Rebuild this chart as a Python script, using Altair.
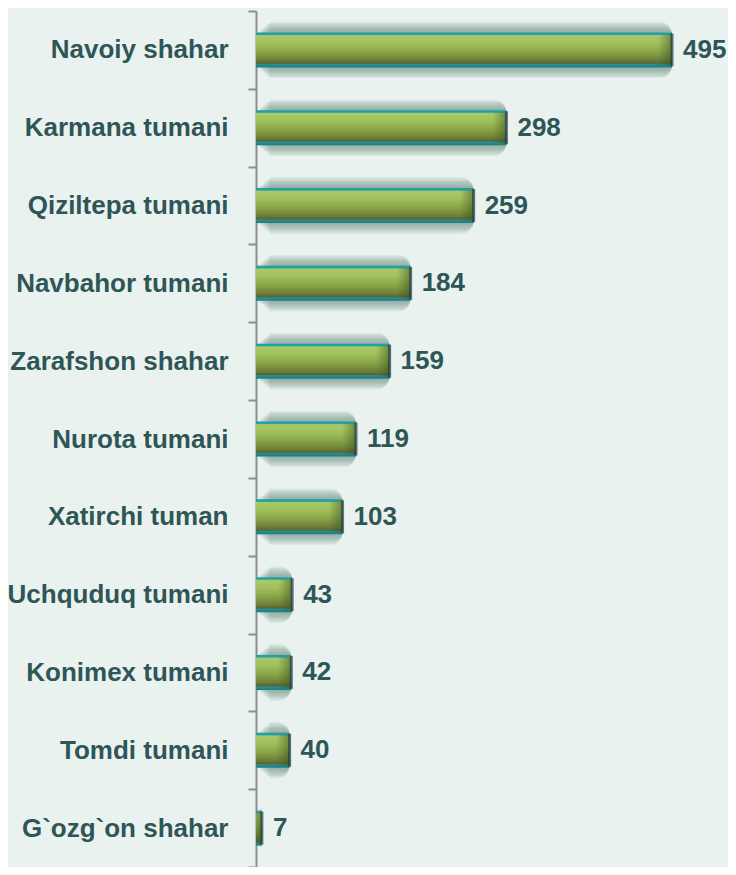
import altair as alt
import pandas as pd

categories = ["Navoiy shahar", "Karmana tumani", "Qiziltepa tumani", "Navbahor tumani",
              "Zarafshon shahar", "Nurota tumani", "Xatirchi tuman", "Uchquduq tumani",
              "Konimex tumani", "Tomdi tumani", "G`ozg`on shahar"]
values = [495, 298, 259, 184, 159, 119, 103, 43, 42, 40, 7]

df = pd.DataFrame({"cat": categories, "val": values})

FONT = "Liberation Sans, Arial, sans-serif"
TXT = "#2F5656"
BG = "#EAF2F0"

x = alt.X("val:Q", scale=alt.Scale(domain=[0, 495], nice=False, zero=True), axis=None)
y = alt.Y("cat:N", sort=categories, scale=alt.Scale(paddingInner=0, paddingOuter=0),
          axis=alt.Axis(title=None, domainColor="#8E8E8E", domainWidth=2,
                        tickColor="#8E8E8E", tickWidth=2, tickSize=8, tickBand="extent",
                        labelFont=FONT, labelFontSize=26, labelFontWeight="bold",
                        labelColor=TXT, labelPadding=20, grid=False, labelLimit=400))

base = alt.Chart(df).encode(y=y)

glows = []
for i in range(9):
    s = 37 + 2.5 * i
    off = 2 + 1.5 * i
    r = 3 + 1.2 * i
    glows.append(base.mark_bar(size=s, x2Offset=off, cornerRadius=r, color="#6F9282",
                               opacity=0.11).encode(x=x, x2=alt.value(0)))

bar_grad = alt.LinearGradient(
    gradient="linear", x1=0, y1=0, x2=0, y2=1,
    stops=[alt.GradientStop(offset=0.0, color="#1E9CA3"),
           alt.GradientStop(offset=0.06, color="#27A3A6"),
           alt.GradientStop(offset=0.09, color="#A9CA68"),
           alt.GradientStop(offset=0.30, color="#A1C05E"),
           alt.GradientStop(offset=0.55, color="#8AA546"),
           alt.GradientStop(offset=0.80, color="#6C7C38"),
           alt.GradientStop(offset=0.88, color="#58642E"),
           alt.GradientStop(offset=0.91, color="#2A8E93"),
           alt.GradientStop(offset=1.0, color="#1B7C84")])

bars = base.mark_bar(size=35, color=bar_grad).encode(x=x, x2=alt.value(0))

cap_grad = alt.LinearGradient(
    gradient="linear", x1=0, y1=0, x2=1, y2=0,
    stops=[alt.GradientStop(offset=0.0, color="rgba(70,90,35,0)"),
           alt.GradientStop(offset=1.0, color="rgba(60,80,30,0.55)")])
caps = base.mark_bar(size=31, color=cap_grad, xOffset=-14, clip=True).encode(
    x=x, x2="val:Q")

ends = base.mark_tick(orient="vertical", size=33, thickness=3, color="#1E3C44").encode(x=x)

labels = base.mark_text(align="left", baseline="middle", dx=11, font=FONT, fontSize=26,
                        fontWeight="bold", color=TXT).encode(x=x, text="val:Q")

chart = alt.layer(*glows, bars, caps, ends, labels).properties(
    width=416, height=856, background=BG,
    autosize=alt.AutoSizeParams(type="none"),
    padding={"left": 248, "top": 3, "right": 56, "bottom": 0},
).configure_view(stroke=None)

chart.save("out.html", embed_options={"renderer": "svg", "actions": False})
